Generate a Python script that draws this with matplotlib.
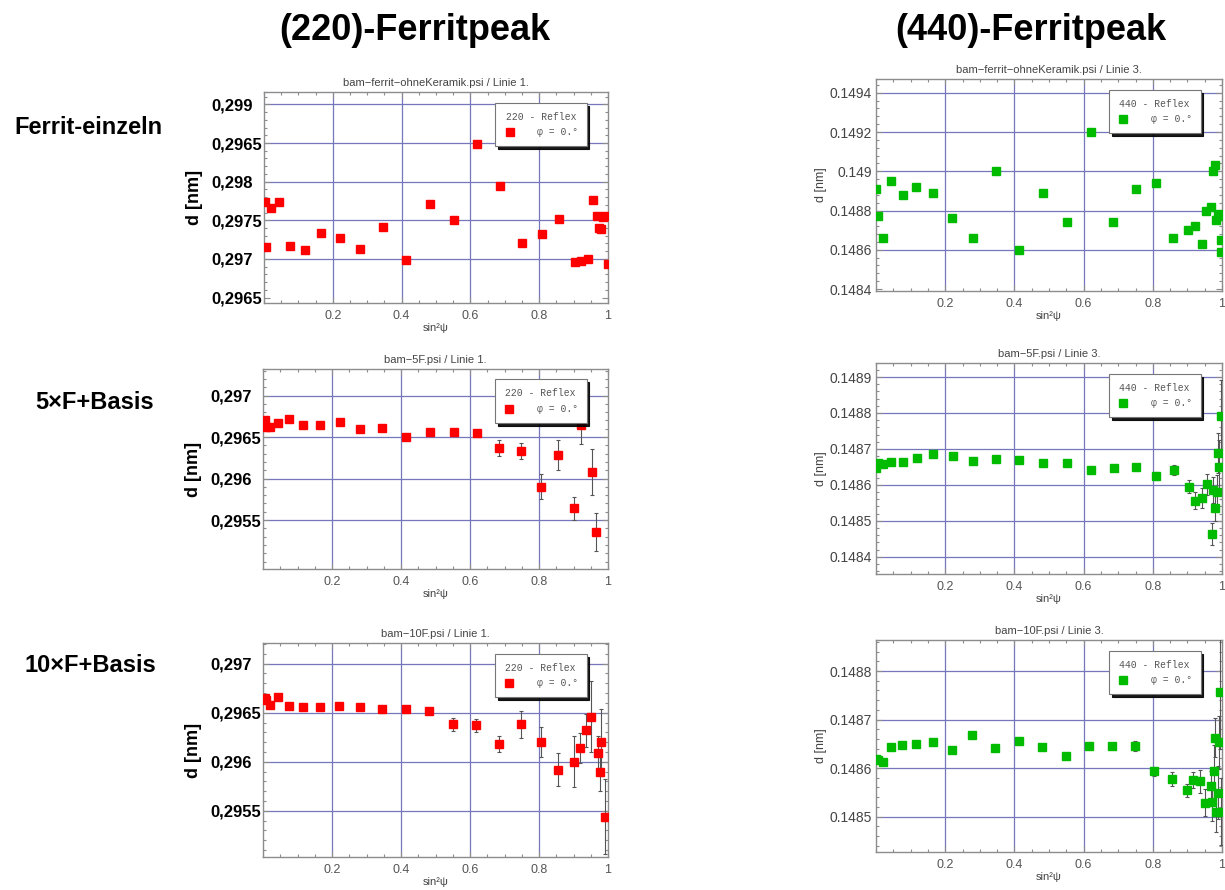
'''
Ferrite peak positions d over sin^2(psi) for the (220) and (440) reflexes,
three sample states each (single ferrite, 5xF + base, 10xF + base).
'''

import matplotlib.pyplot as plt
from matplotlib.lines import Line2D
from matplotlib.ticker import MultipleLocator, AutoMinorLocator

plt.rcParams['font.family'] = ['Liberation Sans', 'DejaVu Sans']

W, H = 1225, 890

# Ferrit-einzeln, (220)
x_220_einzeln = [0.003, 0.006, 0.019, 0.043, 0.077, 0.118, 0.166, 0.222, 0.280, 0.346,
                 0.414, 0.484, 0.553, 0.620, 0.685, 0.750, 0.807, 0.859, 0.904, 0.922,
                 0.941, 0.955, 0.969, 0.974, 0.981, 0.986, 0.992, 1.0]
d_220_einzeln = [0.29774, 0.29716, 0.29766, 0.29774, 0.29717, 0.29712, 0.29733, 0.29727, 0.29713, 0.29741,
                 0.29699, 0.29771, 0.29751, 0.29849, 0.29795, 0.29720, 0.29732, 0.29752, 0.29696, 0.29697,
                 0.29700, 0.29776, 0.29756, 0.29740, 0.29739, 0.29754, 0.29755, 0.29694]

# Ferrit-einzeln, (440)
x_440_einzeln = [0.001, 0.005, 0.020, 0.043, 0.077, 0.117, 0.165, 0.221, 0.280, 0.346,
                 0.413, 0.484, 0.552, 0.620, 0.685, 0.751, 0.808, 0.859, 0.903, 0.922,
                 0.941, 0.954, 0.968, 0.973, 0.980, 0.983, 0.988, 0.995, 0.997, 0.998]
d_440_einzeln = [0.14891, 0.14877, 0.14866, 0.14895, 0.14888, 0.14892, 0.14889, 0.14876, 0.14866, 0.14900,
                 0.14860, 0.14889, 0.14874, 0.14920, 0.14874, 0.14891, 0.14894, 0.14866, 0.14870, 0.14872,
                 0.14863, 0.14880, 0.14882, 0.14900, 0.14903, 0.14875, 0.14877, 0.14878, 0.14865, 0.14859]

# 5xF+Basis, (220)
x_220_5f = [0.006, 0.008, 0.019, 0.043, 0.076, 0.117, 0.165, 0.222, 0.280, 0.345, 0.414,
            0.483, 0.553, 0.620, 0.685, 0.749, 0.805, 0.856, 0.900, 0.922, 0.954, 0.966]
d_220_5f = [0.29671, 0.29662, 0.29662, 0.29667, 0.29672, 0.29665, 0.29664, 0.29668, 0.29660, 0.29661, 0.29650,
            0.29656, 0.29656, 0.29655, 0.29637, 0.29633, 0.29590, 0.29628, 0.29564, 0.29665, 0.29608, 0.29536]
err_220_5f = [0.00001, 0.00001, 0.00001, 0.00001, 0.00001, 0.00001, 0.00001, 0.00002, 0.00002, 0.00002, 0.00002,
              0.00003, 0.00003, 0.00003, 0.00010, 0.00010, 0.00015, 0.00018, 0.00014, 0.00023, 0.00028, 0.00023]

# 5xF+Basis, (440)
x_440_5f = [0.001, 0.006, 0.020, 0.043, 0.078, 0.118, 0.166, 0.222, 0.280, 0.347,
            0.414, 0.484, 0.552, 0.622, 0.687, 0.752, 0.809, 0.861, 0.905, 0.923,
            0.942, 0.957, 0.972, 0.975, 0.981, 0.986, 0.989, 0.992, 0.997]
d_440_5f = [0.148647, 0.148662, 0.148658, 0.148663, 0.148663, 0.148675, 0.148686, 0.148680, 0.148665, 0.148672,
            0.148670, 0.148661, 0.148662, 0.148641, 0.148647, 0.148651, 0.148624, 0.148642, 0.148595, 0.148556,
            0.148563, 0.148601, 0.148463, 0.148586, 0.148536, 0.148581, 0.148689, 0.148650, 0.148791]
err_440_5f = [0.000003, 0.000003, 0.000003, 0.000003, 0.000003, 0.000003, 0.000004, 0.000004, 0.000004, 0.000004,
              0.000004, 0.000005, 0.000005, 0.000005, 0.000005, 0.000005, 0.000011, 0.000014, 0.000018, 0.000023,
              0.000028, 0.000028, 0.000030, 0.000037, 0.000037, 0.000046, 0.000055, 0.000074, 0.000100]

# 10xF+Basis, (220)
x_220_10f = [0.005, 0.008, 0.019, 0.043, 0.076, 0.117, 0.165, 0.220, 0.280, 0.345, 0.414, 0.481, 0.551,
             0.618, 0.684, 0.747, 0.805, 0.855, 0.900, 0.920, 0.937, 0.952, 0.971, 0.978, 0.981, 0.991]
d_220_10f = [0.29665, 0.29663, 0.29658, 0.29666, 0.29657, 0.29656, 0.29656, 0.29657, 0.29656, 0.29654, 0.29654, 0.29652, 0.29638,
             0.29637, 0.29618, 0.29638, 0.29620, 0.29592, 0.29600, 0.29614, 0.29632, 0.29646, 0.29609, 0.29590, 0.29620, 0.29544]
err_220_10f = [0.00001, 0.00001, 0.00001, 0.00001, 0.00001, 0.00001, 0.00001, 0.00002, 0.00002, 0.00002, 0.00002, 0.00003, 0.00007,
               0.00007, 0.00008, 0.00014, 0.00015, 0.00017, 0.00026, 0.00015, 0.00017, 0.00036, 0.00017, 0.00020, 0.00034, 0.00038]

# 10xF+Basis, (440)
x_440_10f = [0.0, 0.006, 0.020, 0.042, 0.076, 0.116, 0.164, 0.220, 0.278, 0.344, 0.412,
             0.481, 0.549, 0.617, 0.682, 0.748, 0.804, 0.856, 0.898, 0.916, 0.936,
             0.951, 0.967, 0.970, 0.976, 0.980, 0.984, 0.987, 0.991, 0.993, 0.996]
d_440_10f = [0.148619, 0.148617, 0.148613, 0.148644, 0.148647, 0.148649, 0.148654, 0.148638, 0.148668, 0.148642, 0.148655,
             0.148644, 0.148625, 0.148646, 0.148646, 0.148646, 0.148593, 0.148577, 0.148554, 0.148575, 0.148573,
             0.148529, 0.148563, 0.148531, 0.148593, 0.148663, 0.148509, 0.148549, 0.148653, 0.148756, 0.148510]
err_440_10f = [0.000003, 0.000003, 0.000003, 0.000003, 0.000003, 0.000003, 0.000003, 0.000004, 0.000004, 0.000004, 0.000004,
               0.000004, 0.000005, 0.000005, 0.000005, 0.000010, 0.000010, 0.000014, 0.000014, 0.000017, 0.000024,
               0.000028, 0.000031, 0.000041, 0.000055, 0.000041, 0.000041, 0.000055, 0.000055, 0.000117, 0.000069]

# y ticks, gridlines and axis ranges of every panel
ticks_220_einzeln = [0.299, 0.2985, 0.298, 0.2975, 0.297, 0.2965]
labels_220_einzeln = ['0,299', '0,2965', '0,298', '0,2975', '0,297', '0,2965']
grid_220_einzeln = [0.299, 0.2985, 0.298, 0.2975, 0.297]

ticks_440_einzeln = [0.1494, 0.1492, 0.149, 0.1488, 0.1486, 0.1484]
labels_440_einzeln = ['0.1494', '0.1492', '0.149', '0.1488', '0.1486', '0.1484']
grid_440_einzeln = [0.1494, 0.1492, 0.149, 0.1488, 0.1486]

ticks_220_basis = [0.297, 0.2965, 0.296, 0.2955]
labels_220_basis = ['0,297', '0,2965', '0,296', '0,2955']

ticks_440_5f = [0.1489, 0.1488, 0.1487, 0.1486, 0.1485, 0.1484]
labels_440_5f = ['0.1489', '0.1488', '0.1487', '0.1486', '0.1485', '0.1484']

ticks_440_10f = [0.1488, 0.1487, 0.1486, 0.1485]
labels_440_10f = ['0.1488', '0.1487', '0.1486', '0.1485']

x_ticks = [0.2, 0.4, 0.6, 0.8, 1.0]
x_labels = ['0.2', '0.4', '0.6', '0.8', '1']

RED = '#ff0000'
GREEN = '#00bb00'
GRID = '#7676bc'
FRAME = '#8c8c8c'
GREY_TEXT = '#444444'


# Creates an axes from pixel edges of the figure
def add_axes_px(fig, left, top, right, bottom):
	return fig.add_axes([left / W, 1 - bottom / H, (right - left) / W, (bottom - top) / H])


# Frame, ticks, grid and legend in the style of the psi-plots
def style_panel(ax, title, ylim, yticks, ylabels, grid_y, reflex, colour, bold_labels):
	ax.set_xlim(0, 1)
	ax.set_ylim(*ylim)
	for spine in ax.spines.values():
		spine.set_color(FRAME)
		spine.set_linewidth(1.0)

	for gx in [0.2, 0.4, 0.6, 0.8]:
		ax.axvline(gx, color=GRID, lw=0.9, zorder=1)
	for gy in grid_y:
		ax.axhline(gy, color=GRID, lw=0.9, zorder=1)

	ax.set_xticks(x_ticks)
	ax.set_xticklabels(x_labels, fontsize=9, color='#555555')
	ax.xaxis.set_minor_locator(MultipleLocator(0.05))
	ax.set_yticks(yticks)
	ax.yaxis.set_minor_locator(AutoMinorLocator(5))
	ax.tick_params(which='both', direction='in', top=True, right=True, color=FRAME, width=0.8)
	ax.tick_params(which='major', length=4)
	ax.tick_params(which='minor', length=2)
	ax.tick_params(axis='x', pad=5)

	if bold_labels:
		ax.set_yticklabels(ylabels, fontsize=12, fontweight='bold', color='black', ha='left')
		ax.tick_params(axis='y', pad=38)
		ax.set_ylabel('d [nm]', fontsize=13, fontweight='bold', labelpad=6)
	else:
		ax.set_yticklabels(ylabels, fontsize=10, color=GREY_TEXT)
		ax.tick_params(axis='y', pad=3)
		ax.set_ylabel('d [nm]', fontsize=9, color=GREY_TEXT, labelpad=2)

	ax.set_xlabel('sin²ψ', fontsize=8, color=GREY_TEXT, labelpad=1)
	ax.set_title(title, fontsize=8, color=GREY_TEXT, pad=4)

	handle = Line2D([], [], ls='none', marker='s', ms=5.5, color=colour, mec=colour)
	leg = ax.legend([handle], ['φ = 0.°'], title=reflex + ' - Reflex', loc='upper right',
	                bbox_to_anchor=(0.952, 0.972), prop={'family': 'Liberation Mono', 'size': 7},
	                title_fontproperties={'family': 'Liberation Mono', 'size': 7},
	                fancybox=False, framealpha=1, edgecolor='#777777', borderpad=0.9,
	                handletextpad=2.2, handlelength=1.2, labelspacing=0.6,
	                shadow={'color': 'black', 'alpha': 0.9})
	leg.get_frame().set_linewidth(0.8)
	leg.get_title().set_color('#555555')
	for txt in leg.get_texts():
		txt.set_color('#555555')
	leg.set_zorder(10)


# Draws the measured d values, with error bars where given
def draw_points(ax, x, d, err, colour):
	if err is None:
		ax.plot(x, d, ls='none', marker='s', ms=5.5, color=colour, mec=colour, zorder=5)
	else:
		ax.errorbar(x, d, yerr=err, ls='none', marker='s', ms=5.5, color=colour, mec=colour,
		            ecolor='#555555', elinewidth=0.8, capsize=1.5, capthick=0.8, zorder=5)


if __name__ == '__main__':
	fig = plt.figure(figsize=(W / 100, H / 100), dpi=100)

	fig.text(415 / W, 1 - 30 / H, '(220)-Ferritpeak', ha='center', va='center', fontsize=26, fontweight='bold')
	fig.text(1031 / W, 1 - 30 / H, '(440)-Ferritpeak', ha='center', va='center', fontsize=26, fontweight='bold')
	fig.text(88 / W, 1 - 127 / H, 'Ferrit-einzeln', ha='center', va='center', fontsize=17, fontweight='bold')
	fig.text(95 / W, 1 - 402 / H, '5×F+Basis', ha='center', va='center', fontsize=17, fontweight='bold')
	fig.text(90 / W, 1 - 665 / H, '10×F+Basis', ha='center', va='center', fontsize=17, fontweight='bold')

	# top row
	ax = add_axes_px(fig, 264, 92, 608, 303)
	draw_points(ax, x_220_einzeln, d_220_einzeln, None, RED)
	style_panel(ax, 'bam−ferrit−ohneKeramik.psi / Linie 1.', (0.29643, 0.29916),
	            ticks_220_einzeln, labels_220_einzeln, grid_220_einzeln, '220', RED, True)

	ax = add_axes_px(fig, 876, 79, 1222, 291)
	draw_points(ax, x_440_einzeln, d_440_einzeln, None, GREEN)
	style_panel(ax, 'bam−ferrit−ohneKeramik.psi / Linie 3.', (0.14839, 0.14947),
	            ticks_440_einzeln, labels_440_einzeln, grid_440_einzeln, '440', GREEN, False)

	# middle row
	ax = add_axes_px(fig, 263, 369, 608, 569)
	draw_points(ax, x_220_5f, d_220_5f, err_220_5f, RED)
	style_panel(ax, 'bam−5F.psi / Linie 1.', (0.29491, 0.29732),
	            ticks_220_basis, labels_220_basis, ticks_220_basis, '220', RED, True)

	ax = add_axes_px(fig, 876, 363, 1222, 574)
	draw_points(ax, x_440_5f, d_440_5f, err_440_5f, GREEN)
	style_panel(ax, 'bam−5F.psi / Linie 3.', (0.148352, 0.148939),
	            ticks_440_5f, labels_440_5f, ticks_440_5f, '440', GREEN, False)

	# bottom row
	ax = add_axes_px(fig, 263, 643, 608, 857)
	draw_points(ax, x_220_10f, d_220_10f, err_220_10f, RED)
	style_panel(ax, 'bam−10F.psi / Linie 1.', (0.29503, 0.29721),
	            ticks_220_basis, labels_220_basis, ticks_220_basis, '220', RED, True)

	ax = add_axes_px(fig, 876, 640, 1222, 852)
	draw_points(ax, x_440_10f, d_440_10f, err_440_10f, GREEN)
	style_panel(ax, 'bam−10F.psi / Linie 3.', (0.148427, 0.148864),
	            ticks_440_10f, labels_440_10f, ticks_440_10f, '440', GREEN, False)

	fig.savefig('out.png', dpi=100)
